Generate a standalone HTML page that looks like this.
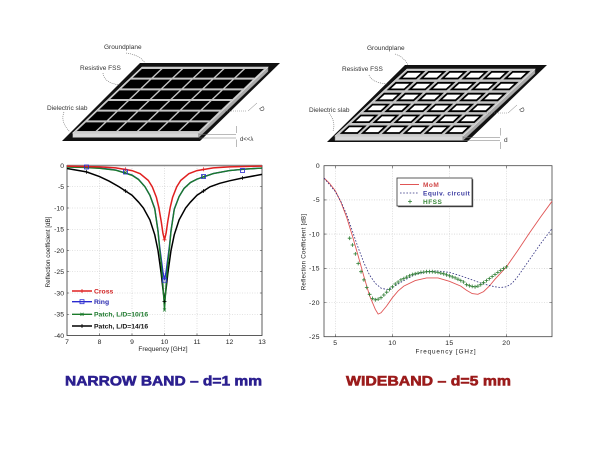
<!DOCTYPE html>
<html>
<head>
<meta charset="utf-8">
<style>
html,body{margin:0;padding:0;background:#fff;}
svg{display:block;}
text{font-family:"Liberation Sans",Arial,sans-serif;}
</style>
</head>
<body>
<svg width="600" height="450" viewBox="0 0 600 450" xmlns="http://www.w3.org/2000/svg">
<defs>
  <marker id="gplus" markerWidth="5" markerHeight="5" refX="2.5" refY="2.5" markerUnits="userSpaceOnUse">
    <path d="M0.6,2.5H4.4M2.5,0.6V4.4" stroke="#2e7d32" stroke-width="0.8" fill="none"/>
  </marker>
</defs>
<rect width="600" height="450" fill="#fff"/>

<!-- ============ LEFT DIAGRAM ============ -->
<polygon points="140,63 280,63 200,141 62,141" fill="#111"/>
<polygon points="72.7,133 198.7,133 198.7,137.5 72.7,137.5" fill="#d8d8d8" stroke="#777" stroke-width="0.5"/>
<polygon points="198.7,133 268,67 268,71.5 198.7,137.5" fill="#aaa" stroke="#777" stroke-width="0.5"/>
<polygon points="142,67 268,67 198.7,133 72.7,133" fill="#c4c4c4" stroke="#e8e8e8" stroke-width="0.6"/>
<g transform="matrix(1,0,-1.05,1,142,67)" fill="#000">
  <rect x="2" y="2" width="18.67" height="8.67"/><rect x="22.67" y="2" width="18.67" height="8.67"/><rect x="43.33" y="2" width="18.67" height="8.67"/><rect x="64" y="2" width="18.67" height="8.67"/><rect x="84.67" y="2" width="18.67" height="8.67"/><rect x="105.33" y="2" width="18.67" height="8.67"/>
  <rect x="2" y="12.67" width="18.67" height="8.67"/><rect x="22.67" y="12.67" width="18.67" height="8.67"/><rect x="43.33" y="12.67" width="18.67" height="8.67"/><rect x="64" y="12.67" width="18.67" height="8.67"/><rect x="84.67" y="12.67" width="18.67" height="8.67"/><rect x="105.33" y="12.67" width="18.67" height="8.67"/>
  <rect x="2" y="23.33" width="18.67" height="8.67"/><rect x="22.67" y="23.33" width="18.67" height="8.67"/><rect x="43.33" y="23.33" width="18.67" height="8.67"/><rect x="64" y="23.33" width="18.67" height="8.67"/><rect x="84.67" y="23.33" width="18.67" height="8.67"/><rect x="105.33" y="23.33" width="18.67" height="8.67"/>
  <rect x="2" y="34" width="18.67" height="8.67"/><rect x="22.67" y="34" width="18.67" height="8.67"/><rect x="43.33" y="34" width="18.67" height="8.67"/><rect x="64" y="34" width="18.67" height="8.67"/><rect x="84.67" y="34" width="18.67" height="8.67"/><rect x="105.33" y="34" width="18.67" height="8.67"/>
  <rect x="2" y="44.67" width="18.67" height="8.67"/><rect x="22.67" y="44.67" width="18.67" height="8.67"/><rect x="43.33" y="44.67" width="18.67" height="8.67"/><rect x="64" y="44.67" width="18.67" height="8.67"/><rect x="84.67" y="44.67" width="18.67" height="8.67"/><rect x="105.33" y="44.67" width="18.67" height="8.67"/>
  <rect x="2" y="55.33" width="18.67" height="8.67"/><rect x="22.67" y="55.33" width="18.67" height="8.67"/><rect x="43.33" y="55.33" width="18.67" height="8.67"/><rect x="64" y="55.33" width="18.67" height="8.67"/><rect x="84.67" y="55.33" width="18.67" height="8.67"/><rect x="105.33" y="55.33" width="18.67" height="8.67"/>
</g>
<g font-size="6.5" fill="#333">
  <text x="104" y="49">Groundplane</text>
  <text x="80" y="70">Resistive FSS</text>
  <text x="47" y="110">Dielectric slab</text>
  <text x="240" y="141" font-size="6">d&lt;&lt;λ</text>
  <text x="0" y="0" font-size="6.5" transform="translate(259,108) rotate(60)">D</text>
</g>
<g fill="none" stroke="#666" stroke-width="0.6" stroke-dasharray="1,1">
  <path d="M126,53 Q140,55 145,63"/>
  <path d="M103,73 Q104,83 120,85"/>
  <path d="M64,112 Q60,122 70,132"/>
</g>
<g stroke="#777" stroke-width="0.5" fill="none">
  <path d="M199,134.5 H236 M199,138 H236"/>
  <path d="M236.5,126 V133 M236.5,139.5 V147"/>
  <path d="M248,111 L257,103"/>
  <path d="M225,111 H247" stroke-dasharray="1,1"/>
</g>

<!-- ============ RIGHT DIAGRAM ============ -->
<polygon points="405,65 547,65 467,142 327,142" fill="#111"/>
<polygon points="335,136 463,136 463,140.5 335,140.5" fill="#d8d8d8" stroke="#777" stroke-width="0.5"/>
<polygon points="463,136 535,69 535,73.5 463,140.5" fill="#aaa" stroke="#777" stroke-width="0.5"/>
<polygon points="407,69 535,69 463,136 335,136" fill="#c4c4c4" stroke="#e8e8e8" stroke-width="0.6"/>
<g transform="matrix(1,0,-1.0746,1,407,69)">
  <g fill="#000">
    <rect x="2.5" y="2" width="18" height="8.4"/><rect x="23.5" y="2" width="18" height="8.4"/><rect x="44.5" y="2" width="18" height="8.4"/><rect x="65.5" y="2" width="18" height="8.4"/><rect x="86.5" y="2" width="18" height="8.4"/><rect x="107.5" y="2" width="18" height="8.4"/>
    <rect x="2.5" y="12.9" width="18" height="8.4"/><rect x="23.5" y="12.9" width="18" height="8.4"/><rect x="44.5" y="12.9" width="18" height="8.4"/><rect x="65.5" y="12.9" width="18" height="8.4"/><rect x="86.5" y="12.9" width="18" height="8.4"/><rect x="107.5" y="12.9" width="18" height="8.4"/>
    <rect x="2.5" y="23.8" width="18" height="8.4"/><rect x="23.5" y="23.8" width="18" height="8.4"/><rect x="44.5" y="23.8" width="18" height="8.4"/><rect x="65.5" y="23.8" width="18" height="8.4"/><rect x="86.5" y="23.8" width="18" height="8.4"/><rect x="107.5" y="23.8" width="18" height="8.4"/>
    <rect x="2.5" y="34.7" width="18" height="8.4"/><rect x="23.5" y="34.7" width="18" height="8.4"/><rect x="44.5" y="34.7" width="18" height="8.4"/><rect x="65.5" y="34.7" width="18" height="8.4"/><rect x="86.5" y="34.7" width="18" height="8.4"/><rect x="107.5" y="34.7" width="18" height="8.4"/>
    <rect x="2.5" y="45.6" width="18" height="8.4"/><rect x="23.5" y="45.6" width="18" height="8.4"/><rect x="44.5" y="45.6" width="18" height="8.4"/><rect x="65.5" y="45.6" width="18" height="8.4"/><rect x="86.5" y="45.6" width="18" height="8.4"/><rect x="107.5" y="45.6" width="18" height="8.4"/>
    <rect x="2.5" y="56.5" width="18" height="8.4"/><rect x="23.5" y="56.5" width="18" height="8.4"/><rect x="44.5" y="56.5" width="18" height="8.4"/><rect x="65.5" y="56.5" width="18" height="8.4"/><rect x="86.5" y="56.5" width="18" height="8.4"/><rect x="107.5" y="56.5" width="18" height="8.4"/>
  </g>
  <g fill="#fff">
    <rect x="5" y="3.8" width="13" height="4.8"/><rect x="26" y="3.8" width="13" height="4.8"/><rect x="47" y="3.8" width="13" height="4.8"/><rect x="68" y="3.8" width="13" height="4.8"/><rect x="89" y="3.8" width="13" height="4.8"/><rect x="110" y="3.8" width="13" height="4.8"/>
    <rect x="5" y="14.7" width="13" height="4.8"/><rect x="26" y="14.7" width="13" height="4.8"/><rect x="47" y="14.7" width="13" height="4.8"/><rect x="68" y="14.7" width="13" height="4.8"/><rect x="89" y="14.7" width="13" height="4.8"/><rect x="110" y="14.7" width="13" height="4.8"/>
    <rect x="5" y="25.6" width="13" height="4.8"/><rect x="26" y="25.6" width="13" height="4.8"/><rect x="47" y="25.6" width="13" height="4.8"/><rect x="68" y="25.6" width="13" height="4.8"/><rect x="89" y="25.6" width="13" height="4.8"/><rect x="110" y="25.6" width="13" height="4.8"/>
    <rect x="5" y="36.5" width="13" height="4.8"/><rect x="26" y="36.5" width="13" height="4.8"/><rect x="47" y="36.5" width="13" height="4.8"/><rect x="68" y="36.5" width="13" height="4.8"/><rect x="89" y="36.5" width="13" height="4.8"/><rect x="110" y="36.5" width="13" height="4.8"/>
    <rect x="5" y="47.4" width="13" height="4.8"/><rect x="26" y="47.4" width="13" height="4.8"/><rect x="47" y="47.4" width="13" height="4.8"/><rect x="68" y="47.4" width="13" height="4.8"/><rect x="89" y="47.4" width="13" height="4.8"/><rect x="110" y="47.4" width="13" height="4.8"/>
    <rect x="5" y="58.3" width="13" height="4.8"/><rect x="26" y="58.3" width="13" height="4.8"/><rect x="47" y="58.3" width="13" height="4.8"/><rect x="68" y="58.3" width="13" height="4.8"/><rect x="89" y="58.3" width="13" height="4.8"/><rect x="110" y="58.3" width="13" height="4.8"/>
  </g>
</g>
<g font-size="6.5" fill="#333">
  <text x="367" y="50">Groundplane</text>
  <text x="342" y="71">Resistive FSS</text>
  <text x="309" y="112">Dielectric slab</text>
  <text x="504" y="142" font-size="6.5">d</text>
  <text x="0" y="0" transform="translate(519,109) rotate(60)">D</text>
</g>
<g fill="none" stroke="#666" stroke-width="0.6" stroke-dasharray="1,1">
  <path d="M395,54 Q404,57 408,65"/>
  <path d="M369,75 Q372,83 388,84"/>
  <path d="M329,113 Q336,122 333,131"/>
</g>
<g stroke="#777" stroke-width="0.5" fill="none">
  <path d="M463,137.5 H500 M463,140.5 H500"/>
  <path d="M500.5,128 V135.5 M500.5,142 V149"/>
  <path d="M508,113 L517,105"/>
  <path d="M486,113 H507" stroke-dasharray="1,1"/>
</g>

<!-- ============ LEFT CHART ============ -->
<g stroke="#c8c8c8" stroke-width="0.6" stroke-dasharray="1,1.5">
  <path d="M99.5,165.5V335.5M132,165.5V335.5M164.5,165.5V335.5M197,165.5V335.5M229.5,165.5V335.5"/>
  <path d="M67,186.75H262M67,208H262M67,229.25H262M67,250.5H262M67,271.75H262M67,293H262M67,314.25H262"/>
</g>
<rect x="67" y="165.5" width="195" height="170" fill="none" stroke="#333" stroke-width="0.8"/>
<line x1="67" y1="165.5" x2="262" y2="165.5" stroke="#888" stroke-width="1.5"/>
<g stroke="#333" stroke-width="0.6">
  <path d="M99.5,335.5v-2M132,335.5v-2M164.5,335.5v-2M197,335.5v-2M229.5,335.5v-2"/>
  <path d="M67,186.75h2M67,208h2M67,229.25h2M67,250.5h2M67,271.75h2M67,293h2M67,314.25h2"/>
  <path d="M262,186.75h-2M262,208h-2M262,229.25h-2M262,250.5h-2M262,271.75h-2M262,293h-2M262,314.25h-2"/>
</g>
<g font-size="6.8" fill="#222" text-anchor="end">
  <text x="64" y="167.8">0</text>
  <text x="64" y="189">-5</text>
  <text x="64" y="210.3">-10</text>
  <text x="64" y="231.5">-15</text>
  <text x="64" y="252.8">-20</text>
  <text x="64" y="274">-25</text>
  <text x="64" y="295.3">-30</text>
  <text x="64" y="316.5">-35</text>
  <text x="64" y="337.8">-40</text>
</g>
<g font-size="6.8" fill="#222" text-anchor="middle">
  <text x="67" y="344">7</text>
  <text x="99.5" y="344">8</text>
  <text x="132" y="344">9</text>
  <text x="164.5" y="344">10</text>
  <text x="197" y="344">11</text>
  <text x="229.5" y="344">12</text>
  <text x="262" y="344">13</text>
  <text x="163" y="351" font-size="6.5">Frequency [GHz]</text>
  <text x="0" y="0" font-size="6.3" transform="translate(50,252) rotate(-90)">Reflection coefficient [dB]</text>
</g>

<polyline fill="none" stroke="#000" stroke-width="1.5" points="67,168.5 86.5,171.9 99.5,176.55 109.25,181.2 119,186.75 132,195.25 138.5,202.05 143.4,208 149.9,219.9 154.75,234.8 158,250.5 161.25,273.9 162.9,288.75 164.5,301.5 166.1,288.75 167.75,273.9 171,250.5 174.25,234.8 179.1,219.9 185.6,208 190.5,202.05 197,195.25 210,186.75 219.75,183.3 229.5,180.8 242.5,178 262,174.4"/>
<polyline fill="none" stroke="#2a2ad0" stroke-width="1.4" points="67,166.8 83.25,167.2 99.5,168 115.75,170 132,175 138.5,179.3 145,186.8 149.9,195.3 154.75,208.4 158,230.5 159.6,246.25 161.25,259 162.9,271.75 164.5,280.25 166.1,271.75 167.75,259 169.4,246.25 171,230.5 174.25,209 179.1,196.5 184,188.5 190.5,182.5 197,179.1 213.25,173.6 229.5,170.6 245.75,169.1 262,168.05"/>
<polyline fill="none" stroke="#1a7a2a" stroke-width="1.4" points="67,167 83.25,167.4 99.5,168.3 115.75,170.2 132,175.3 138.5,179.5 145,186.75 149.9,195.3 154.75,208.9 158,231.4 159.6,248.4 161.25,263.3 162.9,284.5 164.5,310 166.1,284.5 167.75,263.3 169.4,248.4 171,231.4 174.25,209.5 179.1,196.5 184,188.5 190.5,182.5 197,179.1 213.25,173.6 229.5,170.6 245.75,169.1 262,168.05"/>
<polyline fill="none" stroke="#e02020" stroke-width="1.5" points="67,166.1 99.5,166.9 115.75,167.9 132,170.6 140.1,173.7 148.25,180.4 152.3,186.8 156.4,197.4 158.8,207.4 161.25,221.6 162.9,233.1 164.5,239.9 166.1,233.1 167.75,221.6 170.2,207.4 172.6,197.4 176.7,186.8 180.75,180.4 188.9,173.7 197,170.6 213.25,167.9 229.5,166.9 262,166.1"/>
<!-- markers -->
<g fill="none" stroke="#2a2ad0" stroke-width="0.8">
  <rect x="84.5" y="165" width="4" height="4"/><rect x="123.5" y="170" width="4" height="4"/><rect x="162.5" y="278.2" width="4" height="4"/><rect x="201.5" y="174.5" width="4" height="4"/><rect x="240.5" y="168.5" width="4" height="4"/>
</g>
<g stroke="#000" stroke-width="0.7">
  <path d="M84.5,171.9h4M86.5,169.9v4M123.5,191h4M125.5,189v4M162.5,301.5h4M164.5,299.5v4M201.5,191h4M203.5,189v4M240.5,178h4M242.5,176v4"/>
</g>
<g stroke="#1a7a2a" stroke-width="0.7">
  <path d="M124,171l3,3M127,171l-3,3M163,308.5l3,3M166,308.5l-3,3M202,175.3l3,3M205,175.3l-3,3"/>
</g>
<g stroke="#e02020" stroke-width="0.7">
  <path d="M123.5,169.2h4M125.5,167.2v4M162.5,239.9h4M164.5,237.9v4M201.5,169.2h4M203.5,167.2v4"/>
</g>
<!-- left legend -->
<g stroke-width="1.4" fill="none">
  <line x1="72" y1="291" x2="92" y2="291" stroke="#e02020"/>
  <line x1="72" y1="301.7" x2="92" y2="301.7" stroke="#2a2ad0"/>
  <line x1="72" y1="314.3" x2="92" y2="314.3" stroke="#1a7a2a"/>
  <line x1="72" y1="326" x2="92" y2="326" stroke="#000"/>
</g>
<path d="M80,291h4M82,289v4" stroke="#e02020" stroke-width="0.8"/>
<rect x="80" y="299.7" width="4" height="4" fill="none" stroke="#2a2ad0" stroke-width="0.8"/>
<path d="M80.5,312.8l3,3M83.5,312.8l-3,3" stroke="#1a7a2a" stroke-width="0.8"/>
<path d="M80,326h4M82,324v4" stroke="#000" stroke-width="0.8"/>
<g font-size="6.8" font-weight="bold">
  <text x="94" y="293.4" fill="#d02020">Cross</text>
  <text x="94" y="304.1" fill="#2a2ab0">Ring</text>
  <text x="94" y="316.7" fill="#1e7a2e">Patch, L/D=10/16</text>
  <text x="94" y="328.4" fill="#111">Patch, L/D=14/16</text>
</g>

<!-- ============ RIGHT CHART ============ -->
<g stroke="#c8c8c8" stroke-width="0.6" stroke-dasharray="1,1.5">
  <path d="M335.4,165.7V336.7M392.4,165.7V336.7M449.4,165.7V336.7M506.4,165.7V336.7"/>
  <path d="M324,199.9H552M324,234.1H552M324,268.3H552M324,302.5H552"/>
</g>
<rect x="324" y="165.7" width="228" height="171" fill="none" stroke="#444" stroke-width="0.8"/>
<g stroke="#444" stroke-width="0.6">
  <path d="M335.4,336.7v-2.5M392.4,336.7v-2.5M449.4,336.7v-2.5M506.4,336.7v-2.5"/>
  <path d="M335.4,165.7v2.5M392.4,165.7v2.5M449.4,165.7v2.5M506.4,165.7v2.5"/>
  <path d="M324,199.9h2.5M324,234.1h2.5M324,268.3h2.5M324,302.5h2.5"/>
  <path d="M552,199.9h-2.5M552,234.1h-2.5M552,268.3h-2.5M552,302.5h-2.5"/>
</g>
<g font-size="6.8" fill="#222" text-anchor="end" letter-spacing="0.4">
  <text x="320" y="168">0</text>
  <text x="320" y="202.2">-5</text>
  <text x="320" y="236.4">-10</text>
  <text x="320" y="270.6">-15</text>
  <text x="320" y="304.8">-20</text>
  <text x="320" y="339">-25</text>
</g>
<g font-size="6.8" fill="#222" text-anchor="middle" letter-spacing="0.4">
  <text x="335.4" y="345">5</text>
  <text x="392.4" y="345">10</text>
  <text x="449.4" y="345">15</text>
  <text x="506.4" y="345">20</text>
  <text x="446" y="353.5" font-size="6.3" letter-spacing="0.9">Frequency [GHz]</text>
  <text x="0" y="0" font-size="6.2" letter-spacing="0.2" transform="translate(305.5,252) rotate(-90)">Reflection Coefficient [dB]</text>
</g>

<polyline fill="none" stroke="#e05555" stroke-width="0.9" points="324,178 329.7,183.5 335.4,191 341.1,202.6 346.8,217.7 352.5,236.2 358.2,256 363.9,276.5 369.6,295.7 375.3,309.3 378.15,314.1 381,312.8 386.7,305.9 392.4,297.7 398.1,290.9 403.8,286.1 415.2,280.6 426.6,277.9 438,277.9 449.4,281.3 460.8,286.1 466.5,290.2 472.2,293.6 477.9,294.3 483.6,291.6 489.3,286.1 495,279.2 500.7,273.1 506.4,266.9 517.8,250.5 529.2,233.4 540.6,217 552,201.3"/>
<polyline fill="none" stroke="#303080" stroke-width="0.8" stroke-dasharray="1.6,1.6" points="324,178 335.4,191.7 341.1,201.9 346.8,214.9 352.5,231.4 358.2,247.8 363.9,262.8 369.6,275.1 375.3,283.3 381,288.1 386.7,289.5 392.4,287.5 403.8,280.6 415.2,274.5 426.6,271.7 438,271 449.4,272.4 460.8,275.8 472.2,279.9 483.6,284 495,286.8 500.7,287.5 506.4,286.8 512.1,283.3 517.8,276.5 529.2,260.1 540.6,243.7 552,228.6"/>
<polyline fill="none" stroke="none" marker-start="url(#gplus)" marker-mid="url(#gplus)" marker-end="url(#gplus)" points="349.65,238.2 352.5,245 355.35,253.9 358.2,263.5 361.05,271.7 363.9,279.9 366.75,287.5 369.6,294.3 372.45,298.4 375.3,299.8 378.15,299.1 381,297.7 383.85,295 386.7,292.2 389.55,289.5 392.4,286.8 395.25,284 398.1,282 400.95,279.9 403.8,278.6 406.65,277.2 409.5,275.8 412.35,274.5 415.2,273.8 418.05,273.1 420.9,272.4 423.75,272.1 426.6,271.7 429.45,271.7 432.3,271.7 435.15,272.1 438,272.4 440.85,273.1 443.7,273.8 446.55,274.8 449.4,275.8 452.25,276.9 455.1,277.9 457.95,279.2 460.8,280.6 463.65,282 466.5,284.7 469.35,285.7 472.2,286.4 475.05,286.8 477.9,286.1 480.75,284.7 483.6,282.7 486.45,280.6 489.3,278.6 492.15,276.5 495,274.5 497.85,272.4 500.7,270.4 503.55,268.6 506.4,266.9"/>
<!-- right legend -->
<rect x="398.2" y="179.2" width="75" height="28" fill="#444"/>
<rect x="397" y="178" width="75" height="28" fill="#fff" stroke="#333" stroke-width="0.8"/>
<line x1="400" y1="184.5" x2="419" y2="184.5" stroke="#e05555" stroke-width="0.9"/>
<line x1="400" y1="193" x2="419" y2="193" stroke="#303080" stroke-width="0.8" stroke-dasharray="1.6,1.6"/>
<path d="M408,201.5h4M410,199.5v4" stroke="#2e7d32" stroke-width="0.8"/>
<g font-size="6.5" font-weight="bold" letter-spacing="0.5">
  <text x="423" y="186.8" fill="#d04848">MoM</text>
  <text x="423" y="195.3" fill="#3a3aa0">Equiv. circuit</text>
  <text x="423" y="203.8" fill="#3a8a3a">HFSS</text>
</g>

<!-- ============ TITLES ============ -->
<text x="65" y="385.7" font-size="14" font-weight="bold" fill="#2b1f8f" stroke="#2b1f8f" stroke-width="0.6" textLength="197" lengthAdjust="spacingAndGlyphs">NARROW BAND – d=1 mm</text>
<text x="346" y="385.7" font-size="14" font-weight="bold" fill="#9b1b1b" stroke="#9b1b1b" stroke-width="0.6" textLength="165" lengthAdjust="spacingAndGlyphs">WIDEBAND – d=5 mm</text>
</svg>
</body>
</html>
